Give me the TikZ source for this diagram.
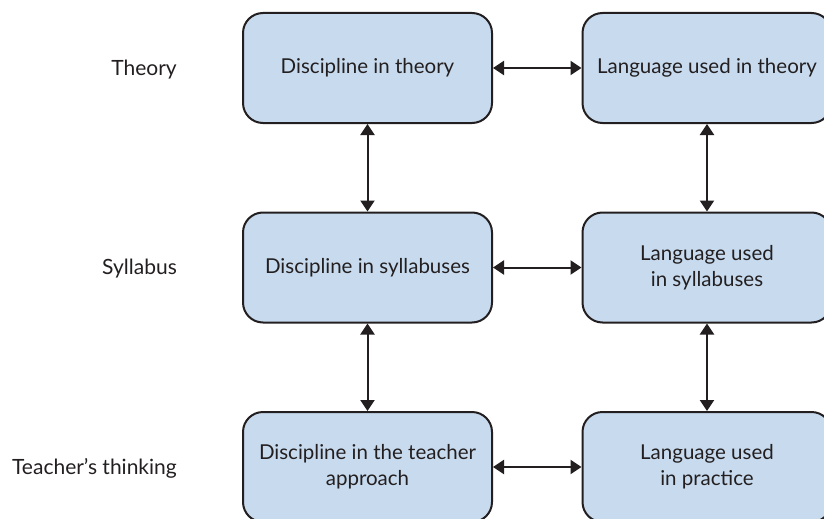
\documentclass[tikz,border=0pt]{standalone}
\usepackage{fontspec}
\setmainfont{Lato}
\usetikzlibrary{arrows.meta}
\definecolor{boxfill}{HTML}{C7DAEE}
\definecolor{ink}{HTML}{231F20}
\tikzset{
  box/.style={draw=ink, line width=2pt, fill=boxfill, rounded corners=20pt,
    minimum width=249pt, minimum height=110pt, align=center, text=ink,
    font=\fontsize{20.5}{26}\selectfont, inner sep=0pt},
  lab/.style={anchor=east, text=ink, font=\fontsize{21}{26}\selectfont, inner sep=0pt},
  dbl/.style={draw=ink, line width=2pt, {Triangle[width=14pt,length=11pt]}-{Triangle[width=14pt,length=11pt]}, shorten <=0pt, shorten >=0pt}
}
\begin{document}
\begin{tikzpicture}[x=1pt,y=-1pt]
\useasboundingbox (0,0) rectangle (824,519);
\clip (0,0) rectangle (824,519);
\node[box] (dt) at (367.5,68) {\raisebox{-1pt}{Discipline in theory}};
\node[box] (lt) at (707,68) {\raisebox{-1pt}{Language used in theory}};
\node[box] (ds) at (367.5,267.5) {\raisebox{-1pt}{Discipline in syllabuses}};
\node[box] (ls) at (707,267.5) {Language used\\in syllabuses};
\node[box] (dp) at (367.5,467) {Discipline in the teacher\\approach};
\node[box] (lp) at (707,467) {Language used\\in practice};
\node[lab] (t1) at (177,69.5) {Theory};
\node[lab] (t2) at (177,269) {Syllabus};
\node[lab] (t3) at (177,468.5) {Teacher’s thinking};
\draw[dbl] (dt.east) -- (lt.west);
\draw[dbl] (ds.east) -- (ls.west);
\draw[dbl] (dp.east) -- (lp.west);
\draw[dbl] (dt.south) -- (ds.north);
\draw[dbl] (ds.south) -- (dp.north);
\draw[dbl] (lt.south) -- (ls.north);
\draw[dbl] (ls.south) -- (lp.north);
\end{tikzpicture}
\end{document}
